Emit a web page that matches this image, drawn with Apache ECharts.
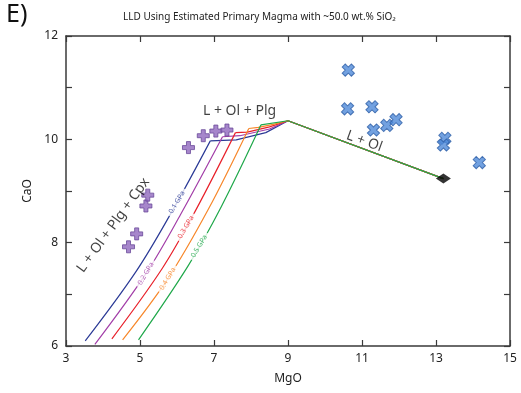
<!DOCTYPE html>
<html>
<head>
<meta charset="utf-8">
<script src="https://cdn.jsdelivr.net/npm/echarts@6/dist/echarts.min.js"></script>
<style>
  html, body { margin: 0; padding: 0; background: #fff; }
  #chart { width: 521px; height: 393px; }
</style>
</head>
<body>
<div id="chart"></div>
<script>
// LLD paths for each pressure, [MgO, CaO]
// lower part: L + Ol + Plg + Cpx (curved), upper part: L + Ol + Plg then L + Ol
const peak = [9.0, 10.36]
const primary = [13.2, 9.24]

const cpx01 = [[3.52, 6.10], [4.9, 7.45], [5.9, 8.65], [6.9, 9.97]]
const cpx02 = [[3.78, 6.03], [5.16, 7.4], [6.1, 8.55], [7.23, 10.05]]
const cpx03 = [[4.24, 6.14], [5.6, 7.5], [6.5, 8.62], [7.58, 10.13]]
const cpx04 = [[4.53, 6.12], [5.75, 7.3], [6.85, 8.65], [7.94, 10.21]]
const cpx05 = [[4.96, 6.12], [6.3, 7.55], [7.2, 8.7], [8.27, 10.28]]

const plg01 = [[6.9, 9.97], [7.6, 9.99], [8.4, 10.13], peak, primary]
const plg02 = [[7.23, 10.05], [7.7, 10.07], [8.5, 10.2], peak, primary]
const plg03 = [[7.58, 10.13], [7.9, 10.14], [8.5, 10.24], peak, primary]
const plg04 = [[7.94, 10.21], [8.2, 10.23], [8.6, 10.29], peak, primary]
const plg05 = [[8.27, 10.28], peak, primary]

const pressureNames = ['0.1 GPa', '0.2 GPa', '0.3 GPa', '0.4 GPa', '0.5 GPa']
const pressureColors = ['#2b3a96', '#a23ea8', '#e8202a', '#f7872a', '#1fa84a']
// where the small pressure labels sit on each path
const pressureLabelPos = [[6.0, 8.78], [5.16, 7.4], [6.24, 8.3], [5.75, 7.3], [6.6, 7.93]]

// samples
const purpleSamples = [
  [4.69, 7.92], [4.91, 8.17], [5.16, 8.71], [5.21, 8.92],
  [6.31, 9.84], [6.71, 10.07], [7.05, 10.16], [7.35, 10.18],
]
const blueSamples = [
  [10.63, 11.34], [10.61, 10.59], [11.27, 10.63], [11.31, 10.18],
  [11.67, 10.27], [11.92, 10.38], [13.24, 10.02], [13.2, 9.89], [14.17, 9.55],
]

const xTicks = { min: 3, max: 15, interval: 2 }
const yTicks = { min: 6, max: 12, interval: 1 }

const fontFamily = '"Noto Sans", "Open Sans", sans-serif'
const axisColor = '#3a3a3a'
const plusPath = 'path://M-1,-3H1V-1H3V1H1V3H-1V1H-3V-1H-1Z'

const chart = echarts.init(document.getElementById('chart'))

function boxAxis(extra) {
  return Object.assign({
    type: 'value',
    axisLine: { show: true, onZero: false, lineStyle: { color: axisColor, width: 1.5 } },
    axisTick: { show: true, inside: true, length: 6, lineStyle: { color: axisColor, width: 1.2 } },
    splitLine: { show: false },
    axisLabel: { show: false },
  }, extra)
}

const cpxPaths = [cpx01, cpx02, cpx03, cpx04, cpx05]
const plgPaths = [plg01, plg02, plg03, plg04, plg05]

const lldSeries = []
cpxPaths.forEach((path, i) => {
  lldSeries.push({
    name: pressureNames[i],
    type: 'line',
    data: path,
    smooth: 0.35,
    showSymbol: false,
    symbol: 'none',
    silent: true,
    lineStyle: { color: pressureColors[i], width: 1.2 },
    z: 2 + i,
  })
  lldSeries.push({
    name: pressureNames[i],
    type: 'line',
    data: plgPaths[i],
    showSymbol: false,
    symbol: 'none',
    silent: true,
    lineStyle: { color: pressureColors[i], width: 1.2 },
    z: 2 + i,
  })
})

const labelItems = pressureLabelPos.map((p, i) => ({
  value: p,
  label: {
    formatter: pressureNames[i],
    color: pressureColors[i],
    fontSize: 7,
    rotate: 59,
    backgroundColor: '#fff',
    padding: [1, 3],
  },
}))

const regionLabels = [
  { value: [7.69, 10.55], label: { formatter: 'L + Ol + Plg', rotate: 0 } },
  { value: [11.06, 9.96], label: { formatter: 'L + Ol', rotate: -20 } },
  { value: [4.28, 8.34], label: { formatter: 'L + Ol + Plg + Cpx', rotate: 54 } },
]

chart.setOption({
  animation: false,
  textStyle: { fontFamily },
  graphic: [
    { type: 'text', left: 6, top: 2, style: { text: 'E)', fontSize: 25, fill: '#111', fontFamily } },
    {
      type: 'text', left: 123, top: 12,
      style: { text: 'LLD Using Estimated Primary Magma with ~50.0 wt.% SiO\u2082', fontSize: 10, fill: '#222', fontFamily },
    },
  ],
  grid: { left: 66, right: 11, top: 36, bottom: 47 },
  xAxis: [
    boxAxis(Object.assign({}, xTicks, {
      position: 'bottom',
      name: 'MgO',
      nameLocation: 'middle',
      nameGap: 27,
      nameTextStyle: { fontSize: 12, color: '#222' },
      axisLabel: { show: true, fontSize: 12, color: '#222', margin: 7 },
    })),
    boxAxis(Object.assign({}, xTicks, { position: 'top' })),
  ],
  yAxis: [
    boxAxis(Object.assign({}, yTicks, {
      position: 'left',
      name: 'CaO',
      nameLocation: 'middle',
      nameGap: 32,
      nameRotate: 90,
      nameTextStyle: { fontSize: 12, color: '#222' },
      axisLabel: {
        show: true, fontSize: 12, color: '#222', margin: 8,
        formatter: (v) => (v % 2 === 0 ? String(v) : ''),
      },
    })),
    boxAxis(Object.assign({}, yTicks, { position: 'right' })),
  ],
  series: [
    ...lldSeries,
    {
      name: 'Primary magma',
      type: 'scatter',
      data: [primary],
      symbol: 'diamond',
      symbolSize: [15, 10],
      itemStyle: { color: '#000' },
      z: 10,
    },
    {
      name: 'Purple samples',
      type: 'scatter',
      data: purpleSamples,
      symbol: plusPath,
      symbolSize: 12,
      itemStyle: { color: '#9068be', borderColor: '#6a4a9a', borderWidth: 1 },
      z: 11,
    },
    {
      name: 'Blue samples',
      type: 'scatter',
      data: blueSamples,
      symbol: plusPath,
      symbolSize: 13,
      symbolRotate: 45,
      itemStyle: { color: '#4f8ad8', borderColor: '#2e5fa8', borderWidth: 1 },
      z: 11,
    },
    {
      name: 'pressure labels',
      type: 'scatter',
      data: labelItems,
      symbolSize: 0,
      silent: true,
      label: { show: true, position: 'inside' },
      z: 12,
    },
    {
      name: 'field labels',
      type: 'scatter',
      data: regionLabels,
      symbolSize: 0,
      silent: true,
      label: { show: true, position: 'inside', fontSize: 14, color: '#111' },
      z: 12,
    },
  ],
})
</script>
</body>
</html>
